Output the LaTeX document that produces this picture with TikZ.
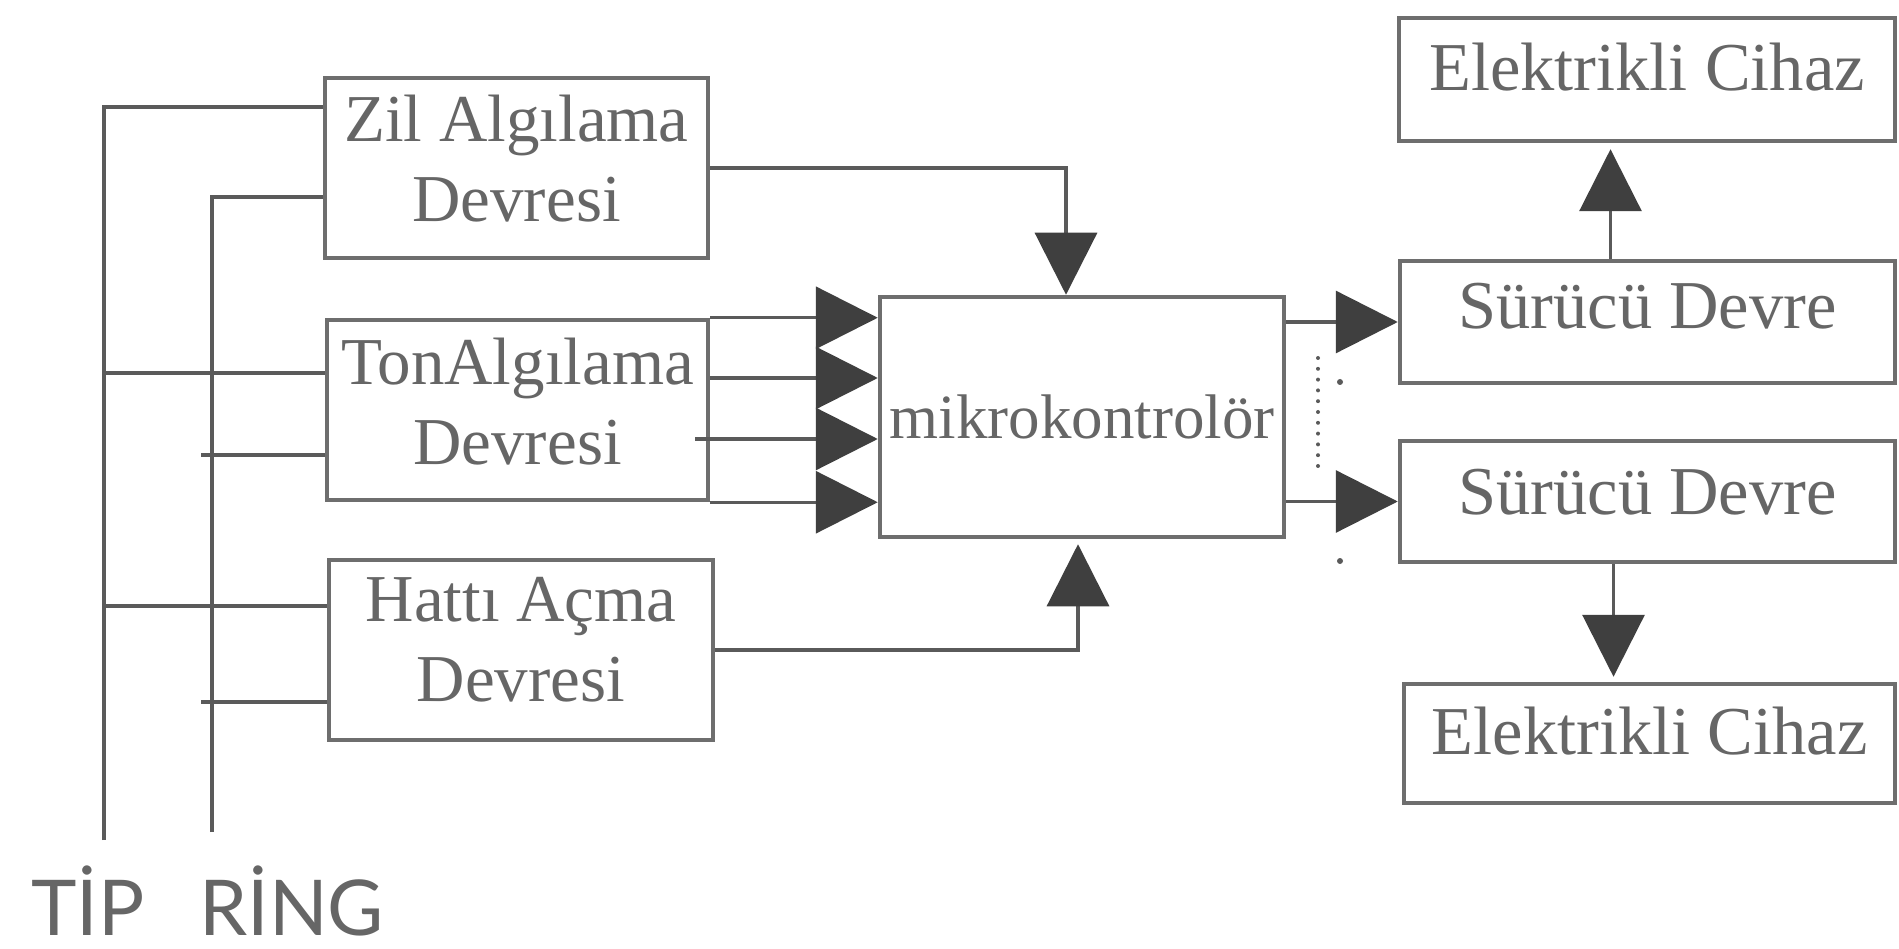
\documentclass[tikz,border=0pt]{standalone}
\usepackage{fontspec}
\setmainfont{Liberation Serif}
\newfontfamily\labfont{Lato}
\usetikzlibrary{arrows.meta,calc}
\definecolor{txtgray}{HTML}{666666}
\definecolor{linegray}{HTML}{6E6E6E}
\definecolor{wiregray}{HTML}{5A5A5A}
\definecolor{tipgray}{HTML}{3F3F3F}
\tikzset{
 blk/.style={draw=linegray, line width=4.5pt, inner sep=0pt, text=txtgray, align=center},
 leftblk/.style={blk, minimum width=383pt, minimum height=180pt, font=\fontsize{67}{80}\selectfont},
 rightblk/.style={blk, minimum width=495pt, minimum height=122pt, font=\fontsize{68.5}{80}\selectfont},
 wire/.style={draw=wiregray, line width=3.2pt},
 arr/.style={wire, -{Triangle[length=62pt,width=62pt,color=tipgray]}},
 lab/.style={text=txtgray, font=\labfont\fontsize{77}{90}\selectfont, inner sep=0pt, anchor=base west},
}
\begin{document}
\begin{tikzpicture}[x=1pt,y=-1pt]
\useasboundingbox (0,0) rectangle (1899,949);
\fill[white] (0,0) rectangle (1899,949);

% left blocks
\node[leftblk, text depth=20pt] (zil) at (516.5,168) {Zil Algılama\\Devresi};
\node[leftblk, minimum width=381pt, text depth=18pt] (ton) at (517.5,410) {TonAlgılama\\Devresi};
\node[leftblk, minimum width=384pt, text depth=22pt] (hatti) at (521,650) {Hattı Açma\\Devresi};

% microcontroller
\node[blk, minimum width=404pt, minimum height=240pt, font=\fontsize{63}{76}\selectfont] (mikro) at (1082,417) {mikrokontrolör};

% right blocks
\node[rightblk, minimum width=496pt, minimum height=123pt, text depth=26pt] (elek1) at (1647,79.5) {Elektrikli Cihaz};
\node[rightblk, text depth=32pt] (sur1) at (1647.5,322) {Sürücü Devre};
\node[rightblk, minimum height=121pt, text depth=20pt] (sur2) at (1647.5,501.5) {Sürücü Devre};
\node[rightblk, minimum width=491pt, minimum height=119pt, text depth=26pt] (elek2) at (1649.5,743.5) {Elektrikli Cihaz};

% TIP / RING lines
\coordinate (tipTop) at (104,107);
\coordinate (tipBot) at (104,840);
\coordinate (ringTop) at (212,197);
\coordinate (ringBot) at (212,832);
\draw[wire] (tipBot) -- (tipTop) -- (tipTop -| zil.west);
\draw[wire] (ringBot) -- (ringTop) -- (ringTop -| zil.west);
\coordinate (tip2) at (104,373);
\draw[wire] (tip2) -- (tip2 -| ton.west);
\coordinate (ring2) at (201,455);
\draw[wire] (ring2) -- (ring2 -| ton.west);
\coordinate (tip3) at (104,606);
\draw[wire] (tip3) -- (tip3 -| hatti.west);
\coordinate (ring3) at (201,702);
\draw[wire] (ring3) -- (ring3 -| hatti.west);

% into microcontroller
\draw[arr] (zil.east) -| ($(mikro.north)+(-16,0)$);
\draw[arr, shorten >=5pt] (hatti.east) -| ($(mikro.south)+(-4,0)$);
\draw[arr] (ton.north east) -- (ton.north east -| mikro.west);
\coordinate (t2) at ($(ton.east)+(0,-32)$);
\draw[arr] (t2) -- (t2 -| mikro.west);
\coordinate (t3) at ($(ton.east)+(-15,29)$);
\draw[arr] (t3) -- (t3 -| mikro.west);
\draw[arr] (ton.south east) -- (ton.south east -| mikro.west);

% out of microcontroller
\draw[arr] (mikro.east |- sur1.west) -- (sur1.west);
\draw[arr] (mikro.east |- sur2.west) -- (sur2.west);
\coordinate (s1up) at ($(sur1.north)+(-37,0)$);
\draw[arr, shorten >=6pt] (s1up) -- (s1up |- elek1.south);
\coordinate (s2dn) at ($(sur2.south)+(-34,0)$);
\draw[arr, shorten >=5pt] (s2dn) -- (s2dn |- elek2.north);

% dotted continuation
\coordinate (dotA) at (1318,358);
\coordinate (dotB) at (1318,466);
\draw[draw=wiregray, line width=4pt, line cap=round, dash pattern=on 0pt off 10.8pt] (dotA) -- (dotB);
\fill[wiregray] (1340,382) circle (3pt);
\fill[wiregray] (1340,561) circle (3pt);

% labels
\node[lab] (tipl) at (31,935) {TİP};
\node[lab] (ringl) at (199,935) {RİNG};
\end{tikzpicture}
\end{document}
